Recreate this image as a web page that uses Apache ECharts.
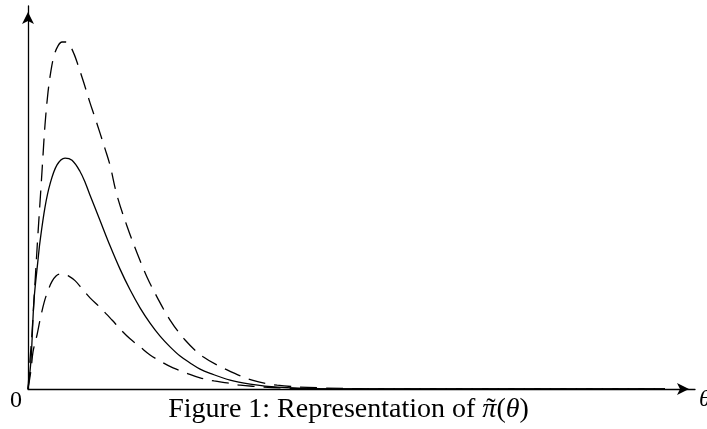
<!DOCTYPE html>
<html>
<head>
<meta charset="utf-8">
<script src="https://cdn.jsdelivr.net/npm/echarts@6/dist/echarts.min.js"></script>
<style>
html,body{margin:0;padding:0;background:#fff;}
#chart{width:707px;height:429px;}
</style>
</head>
<body>
<div id="chart"></div>
<script>
// theta values and density readings (arbitrary units, axis 0..10 by 0..1)
const solidTheta = [0, 0.045, 0.09, 0.15, 0.18, 0.255, 0.33, 0.435, 0.555, 0.66, 0.78, 0.86, 0.93, 1.08, 1.23, 1.38, 1.53, 1.68, 1.83, 1.98, 2.13, 2.28, 2.43, 2.58, 2.73, 3.03, 3.33, 3.74, 4.38, 5.58, 9.55];
const solidValues = [0, 0.076, 0.232, 0.337, 0.385, 0.475, 0.535, 0.585, 0.603, 0.597, 0.568, 0.538, 0.506, 0.440, 0.374, 0.313, 0.259, 0.212, 0.172, 0.138, 0.110, 0.086, 0.068, 0.052, 0.041, 0.023, 0.013, 0.005, 0.001, 0, 0];

const upperTheta = [0, 0.03, 0.06, 0.105, 0.15, 0.195, 0.225, 0.255, 0.30, 0.345, 0.39, 0.45, 0.51, 0.57, 0.63, 0.69, 0.75, 0.81, 0.87, 0.93, 1.005, 1.08, 1.155, 1.23, 1.335, 1.485, 1.635, 1.785, 1.935, 2.13, 2.355, 2.625, 2.985, 3.36, 3.735, 4.38, 5.58, 9.55];
const upperValues = [0, 0.076, 0.146, 0.277, 0.407, 0.527, 0.610, 0.690, 0.775, 0.832, 0.870, 0.896, 0.906, 0.906, 0.896, 0.875, 0.846, 0.814, 0.781, 0.747, 0.708, 0.668, 0.627, 0.584, 0.505, 0.425, 0.355, 0.292, 0.240, 0.180, 0.128, 0.084, 0.050, 0.023, 0.010, 0.003, 0, 0];

const lowerTheta = [0, 0.045, 0.075, 0.135, 0.18, 0.24, 0.30, 0.36, 0.42, 0.48, 0.54, 0.60, 0.705, 0.81, 0.93, 1.08, 1.26, 1.395, 1.53, 1.68, 1.83, 2.01, 2.175, 2.37, 2.58, 2.79, 2.985, 3.18, 3.375, 3.78, 4.38, 9.55];
const lowerValues = [0, 0.050, 0.097, 0.141, 0.180, 0.225, 0.257, 0.281, 0.295, 0.300, 0.300, 0.296, 0.283, 0.262, 0.238, 0.213, 0.180, 0.154, 0.131, 0.110, 0.089, 0.070, 0.055, 0.042, 0.029, 0.021, 0.016, 0.010, 0.007, 0.003, 0, 0];

const originLabel = '0';
const axisLabelX = 'θ';
const captionParts = ['Figure 1: Representation of ', 'π', '(', 'θ', ')'];
const tildeChar = '\u02DC';

function pairs(xs, ys) { return xs.map((x, i) => [x, ys[i]]); }

const serif = '"Liberation Serif", "Times New Roman", serif';
const capSize = 28;
const capFont = capSize + 'px ' + serif;
const capFontI = 'italic ' + capSize + 'px ' + serif;
const capCenter = 348.5, capBaseline = 419;

// measure caption parts to place the tilde over the italic pi
const mctx = document.createElement('canvas').getContext('2d');
function tw(t, f) { mctx.font = f; return mctx.measureText(t).width; }
const w0 = tw(captionParts[0], capFont);
const wPi = tw(captionParts[1], capFontI);
const wRest = tw(captionParts[2], capFont) + tw(captionParts[3], capFontI) + tw(captionParts[4], capFont);
const capStart = capCenter - (w0 + wPi + wRest) / 2;
const tildeX = capStart + w0 + wPi / 2 + 1.5;

const chart = echarts.init(document.getElementById('chart'), null, {renderer: 'canvas'});
const axisLine = {
  show: true,
  symbol: ['none', 'arrow'],
  symbolSize: [9, 12],
  symbolOffset: [0, -6],
  lineStyle: {color: '#000', width: 1.3}
};
const dash = [17, 9];
const lineBase = {type: 'line', showSymbol: false, smooth: 0.35, silent: true, clip: false};
const midShift = 0.3375;
chart.setOption({
  animation: false,
  backgroundColor: '#fff',
  grid: {left: 28, right: 12, top: 6, bottom: 40, containLabel: false},
  xAxis: {type: 'value', min: 0, max: 10, axisLine: axisLine, axisTick: {show: false}, axisLabel: {show: false}, splitLine: {show: false}},
  yAxis: {type: 'value', min: 0, max: 1, axisLine: axisLine, axisTick: {show: false}, axisLabel: {show: false}, splitLine: {show: false}},
  series: [
    Object.assign({}, lineBase, {name: 'upper', data: pairs(upperTheta, upperValues), lineStyle: {color: '#000', width: 1.3, type: dash}}),
    Object.assign({}, lineBase, {name: 'solid', data: pairs(solidTheta, solidValues), lineStyle: {color: '#000', width: 1.3, type: 'solid'}}),
    Object.assign({}, lineBase, {name: 'lower', data: pairs(lowerTheta, lowerValues), lineStyle: {color: '#000', width: 1.3, type: dash}})
  ],
  graphic: [
    {type: 'text', silent: true, style: {x: 16, y: 401, text: originLabel, font: '24px ' + serif, fill: '#000', align: 'center', verticalAlign: 'middle'}},
    {type: 'text', silent: true, style: {x: 699, y: 400, text: axisLabelX, font: 'italic 24px ' + serif, fill: '#000', align: 'left', verticalAlign: 'middle'}},
    {type: 'text', silent: true, style: {x: capStart, y: capBaseline - midShift * capSize,
      text: captionParts[0] + '{i|' + captionParts[1] + '}' + captionParts[2] + '{i|' + captionParts[3] + '}' + captionParts[4],
      font: capFont, fill: '#000', align: 'left', verticalAlign: 'middle',
      rich: {i: {font: capFontI, fill: '#000'}}}},
    {type: 'text', silent: true, style: {x: tildeX, y: capBaseline - midShift * capSize, text: tildeChar, font: capFont, fill: '#000', align: 'center', verticalAlign: 'middle'}}
  ]
});
</script>
</body>
</html>
